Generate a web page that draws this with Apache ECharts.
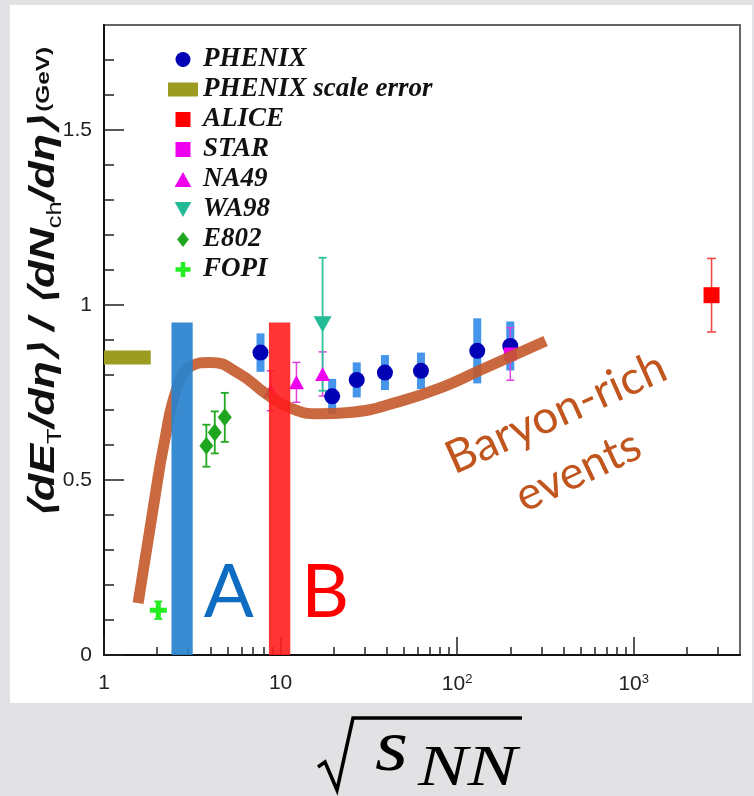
<!DOCTYPE html>
<html>
<head>
<meta charset="utf-8">
<script src="https://cdn.jsdelivr.net/npm/echarts@6/dist/echarts.min.js"></script>
<style>
  html, body { margin: 0; padding: 0; background: #e2e2e5; }
  #chart { width: 754px; height: 796px; }
</style>
</head>
<body>
<div id="chart"></div>
<script>
// sqrt(s_NN) in GeV, <dE_T/deta>/<dN_ch/deta> in GeV
const phenixEnergy = [7.7, 19.6, 27, 39, 62.4, 130, 200]
const phenixValue = [0.864, 0.739, 0.786, 0.807, 0.812, 0.869, 0.883]
const phenixSyst = [0.055, 0.05, 0.05, 0.05, 0.052, 0.093, 0.07]

const aliceEnergy = [2760]
const aliceValue = [1.028]
const aliceErr = [0.105]

const starEnergy = [200]
const starValue = [0.86]
const starErr = [0.075]

const na49Energy = [8.8, 12.3, 17.3]
const na49Value = [0.755, 0.779, 0.803]
const na49Err = [0.057, 0.057, 0.063]

const wa98Energy = [17.3]
const wa98Value = [0.945]
const wa98Err = [0.19]

const e802Energy = [3.8, 4.24, 4.83]
const e802Value = [0.598, 0.636, 0.679]
const e802Err = [0.06, 0.06, 0.07]

const fopiEnergy = [2.03]
const fopiValue = [0.128]
const fopiErr = [0.025]

// PHENIX scale error box: energy range and value +- half height
const scaleErrEnergy = [1, 1.84]
const scaleErrValue = [0.85]
const scaleErrHalf = [0.02]

// hand drawn "Baryon-rich events" curve
const curveEnergy = [1.56, 1.9, 2.2, 2.6, 3.1, 4.0, 5.87, 8.3, 11.7, 16.5, 24.5, 47, 86, 133, 317]
const curveValue = [0.148, 0.42, 0.61, 0.765, 0.825, 0.836, 0.803, 0.746, 0.703, 0.689, 0.693, 0.724, 0.769, 0.812, 0.897]

// marked energy regions A and B
const regionNames = ['A', 'B']
const regionLow = [2.41, 8.59]
const regionHigh = [3.18, 11.35]
const regionTop = [0.95, 0.95]

const xMajorTicks = [1, 10, 100, 1000]
const yMajorTicks = [0, 0.5, 1, 1.5]

const xMinorTicks = []
for (const d of [1, 10, 100, 1000]) {
  for (let k = 2; k <= 9; k++) {
    if (d * k < 4000) xMinorTicks.push(d * k)
  }
}
const yMinorTicks = []
for (let i = 1; i <= 17; i++) {
  if (i % 5 !== 0) yMinorTicks.push(i / 10)
}

const zip = (xs, ys, es) => xs.map((x, i) => [x, ys[i], es[i]])

function errorBars(xs, ys, es, color, cap, width) {
  return {
    type: 'custom',
    z: 3,
    silent: true,
    encode: { x: 0, y: 1 },
    data: zip(xs, ys, es),
    renderItem(params, api) {
      const x = api.value(0)
      const y = api.value(1)
      const e = api.value(2)
      const hi = api.coord([x, y + e])
      const lo = api.coord([x, y - e])
      const s = { stroke: color, lineWidth: width }
      return {
        type: 'group',
        children: [
          { type: 'line', shape: { x1: hi[0], y1: hi[1], x2: lo[0], y2: lo[1] }, style: s },
          { type: 'line', shape: { x1: hi[0] - cap / 2, y1: hi[1], x2: hi[0] + cap / 2, y2: hi[1] }, style: s },
          { type: 'line', shape: { x1: lo[0] - cap / 2, y1: lo[1], x2: lo[0] + cap / 2, y2: lo[1] }, style: s }
        ]
      }
    }
  }
}

const myChart = echarts.init(document.getElementById('chart'))

const tickStyle = { color: '#222', width: 1.5 }

const option = {
  backgroundColor: '#e2e2e5',
  animation: false,
  grid: {
    left: 104, right: 14, top: 25, bottom: 141,
    show: true, borderColor: '#666', borderWidth: 2, backgroundColor: 'transparent'
  },
  graphic: {
    elements: [
      { type: 'rect', z: -100, shape: { x: 10, y: 5, width: 742, height: 698 }, style: { fill: '#ffffff' } },
      {
        type: 'text', x: 44, y: 283, rotation: Math.PI / 2, scaleX: 1.28, z: 10,
        style: {
          text: '{i|⟨dE}{sub|T}{i|/dη⟩ / ⟨dN}{sub|ch}{i|/dη⟩} {g|(GeV)}',
          align: 'center', verticalAlign: 'middle',
          rich: {
            i: { fontFamily: 'Liberation Sans', fontStyle: 'italic', fontWeight: 'bold', fontSize: 35, fill: '#111', lineHeight: 42, verticalAlign: 'middle' },
            sub: { fontFamily: 'Liberation Sans', fontSize: 20, fill: '#111', lineHeight: 42, verticalAlign: 'bottom' },
            g: { fontFamily: 'Liberation Sans', fontWeight: 'bold', fontSize: 19, fill: '#111', lineHeight: 42, verticalAlign: 'middle' }
          }
        }
      },
      {
        type: 'text', x: 556, y: 413, rotation: 0.42, z: 10,
        style: { text: 'Baryon-rich', fontFamily: 'Lato', fontSize: 46, fill: '#c0561e', align: 'center', verticalAlign: 'middle' }
      },
      {
        type: 'text', x: 578, y: 471, rotation: 0.44, z: 10,
        style: { text: 'events', fontFamily: 'Lato', fontSize: 46, fill: '#c0561e', align: 'center', verticalAlign: 'middle' }
      },
      {
        type: 'polyline', z: 10,
        shape: { points: [[318, 767], [325, 762], [337, 790], [353, 718], [522, 718]] },
        style: { stroke: '#000', lineWidth: 3.5, fill: null, lineJoin: 'miter' }
      },
      {
        type: 'text', x: 375, y: 788, z: 10, scaleX: 1.15,
        style: { text: 's', fontFamily: 'Liberation Serif', fontStyle: 'italic', fontSize: 74, fill: '#000', verticalAlign: 'bottom' }
      },
      {
        type: 'text', x: 418, y: 799, z: 10, scaleX: 1.28,
        style: { text: 'NN', fontFamily: 'Liberation Serif', fontStyle: 'italic', fontSize: 58, fill: '#000', verticalAlign: 'bottom' }
      }
    ]
  },
  legend: {
    orient: 'vertical',
    left: 163, top: 41,
    itemWidth: 30, itemHeight: 15, itemGap: 3,
    textStyle: { fontFamily: 'Liberation Serif', fontStyle: 'italic', fontWeight: 'bold', fontSize: 27, color: '#111' },
    data: [
      { name: 'PHENIX', icon: 'circle' },
      { name: 'PHENIX scale error', icon: 'path://M0,0L30,0L30,14L0,14Z', itemStyle: { color: '#9c9c22' } },
      { name: 'ALICE', icon: 'path://M0,0L10,0L10,10L0,10Z' },
      { name: 'STAR', icon: 'path://M0,0L10,0L10,10L0,10Z' },
      { name: 'NA49', icon: 'path://M5,0L10,9L0,9Z' },
      { name: 'WA98', icon: 'path://M0,0L10,0L5,9Z' },
      { name: 'E802', icon: 'path://M5,0L10.5,7L5,14L-0.5,7Z' },
      { name: 'FOPI', icon: 'path://M3.5,0H6.5V3.5H10V6.5H6.5V10H3.5V6.5H0V3.5H3.5Z' }
    ]
  },
  xAxis: [
    {
      type: 'log', logBase: 10, min: 1, max: 4000,
      axisLine: { lineStyle: { color: '#111', width: 2 } },
      axisTick: { inside: true, length: 18, lineStyle: tickStyle, customValues: xMajorTicks },
      axisLabel: {
        customValues: xMajorTicks,
        margin: 18,
        fontFamily: 'Liberation Sans Narrow, Liberation Sans', fontSize: 21, color: '#222',
        formatter: v => {
          const p = Math.round(Math.log10(v))
          if (Math.abs(Math.log10(v) - p) > 1e-6) return ''
          if (p === 0) return '1'
          if (p === 1) return '10'
          return '10{sup|' + p + '}'
        },
        rich: { sup: { fontFamily: 'Liberation Sans Narrow, Liberation Sans', fontSize: 13, color: '#222', verticalAlign: 'top', padding: [0, 0, 10, 0] } }
      },
      splitLine: { show: false }
    },
    {
      type: 'log', logBase: 10, min: 1, max: 4000, position: 'bottom',
      axisLine: { show: false },
      axisTick: { inside: true, length: 8, lineStyle: tickStyle, customValues: xMinorTicks },
      axisLabel: { show: false },
      splitLine: { show: false }
    }
  ],
  yAxis: [
    {
      type: 'value', min: 0, max: 1.8, interval: 0.5,
      axisLine: { show: true, lineStyle: { color: '#111', width: 2 } },
      axisTick: { inside: true, length: 20, lineStyle: tickStyle, customValues: yMajorTicks },
      axisLabel: { customValues: yMajorTicks, margin: 12, fontFamily: 'Liberation Sans', fontSize: 21, color: '#222' },
      splitLine: { show: false }
    },
    {
      type: 'value', min: 0, max: 1.8, interval: 0.1, position: 'left',
      axisLine: { show: false },
      axisTick: { inside: true, length: 10, lineStyle: tickStyle, customValues: yMinorTicks },
      axisLabel: { show: false },
      splitLine: { show: false }
    }
  ],
  series: [
    {
      type: 'custom', z: 2, silent: true,
      encode: { x: 0, y: 1 },
      data: zip(phenixEnergy, phenixValue, phenixSyst),
      renderItem(params, api) {
        const x = api.value(0), y = api.value(1), e = api.value(2)
        const hi = api.coord([x, y + e])
        const lo = api.coord([x, y - e])
        return { type: 'rect', shape: { x: hi[0] - 4, y: hi[1], width: 8, height: lo[1] - hi[1] }, style: { fill: '#4596ea' } }
      }
    },
    {
      name: 'PHENIX scale error', type: 'custom', z: 2, silent: true,
      itemStyle: { color: '#9c9c22' },
      encode: { x: [0, 1], y: 2 },
      data: [[scaleErrEnergy[0], scaleErrEnergy[1], scaleErrValue[0], scaleErrHalf[0]]],
      renderItem(params, api) {
        const a = api.coord([api.value(0), api.value(2) + api.value(3)])
        const b = api.coord([api.value(1), api.value(2) - api.value(3)])
        return { type: 'rect', shape: { x: a[0], y: a[1], width: b[0] - a[0], height: b[1] - a[1] }, style: { fill: '#9c9c22' } }
      }
    },
    errorBars(aliceEnergy, aliceValue, aliceErr, '#f04848', 9, 1.6),
    errorBars(starEnergy, starValue, starErr, '#e040e0', 8, 1.5),
    errorBars(na49Energy, na49Value, na49Err, '#e040e0', 8, 1.5),
    errorBars(wa98Energy, wa98Value, wa98Err, '#2cc49c', 8, 1.8),
    errorBars(e802Energy, e802Value, e802Err, '#22a822', 8, 1.8),
    errorBars(fopiEnergy, fopiValue, fopiErr, '#22e422', 8, 1.8),
    {
      name: 'PHENIX', type: 'scatter', z: 4, symbol: 'circle', symbolSize: 16,
      itemStyle: { color: '#0000b4', opacity: 1 },
      data: phenixEnergy.map((x, i) => [x, phenixValue[i]])
    },
    {
      name: 'ALICE', type: 'scatter', z: 4, symbol: 'rect', symbolSize: 16,
      itemStyle: { color: '#ff0000', opacity: 1 },
      data: aliceEnergy.map((x, i) => [x, aliceValue[i]])
    },
    {
      name: 'STAR', type: 'scatter', z: 4, symbol: 'rect', symbolSize: 13,
      itemStyle: { color: '#ee00ee', opacity: 1 },
      data: starEnergy.map((x, i) => [x, starValue[i]])
    },
    {
      name: 'NA49', type: 'scatter', z: 4, symbol: 'triangle', symbolSize: [15, 14],
      itemStyle: { color: '#ee00ee', opacity: 1 },
      data: na49Energy.map((x, i) => [x, na49Value[i]])
    },
    {
      name: 'WA98', type: 'scatter', z: 4, symbol: 'triangle', symbolRotate: 180, symbolSize: [18, 16],
      itemStyle: { color: '#22bb96', opacity: 1 },
      data: wa98Energy.map((x, i) => [x, wa98Value[i]])
    },
    {
      name: 'E802', type: 'scatter', z: 4, symbol: 'diamond', symbolSize: [14, 18],
      itemStyle: { color: '#1fa61f', opacity: 1 },
      data: e802Energy.map((x, i) => [x, e802Value[i]])
    },
    {
      name: 'FOPI', type: 'scatter', z: 4,
      symbol: 'path://M3.5,0H6.5V3.5H10V6.5H6.5V10H3.5V6.5H0V3.5H3.5Z', symbolSize: 17,
      itemStyle: { color: '#22ee22', opacity: 1 },
      data: fopiEnergy.map((x, i) => [x, fopiValue[i]])
    },
    {
      type: 'line', z: 5, smooth: 0.5, symbol: 'none', silent: true,
      lineStyle: { color: '#c4582a', width: 11, opacity: 0.9, cap: 'butt' },
      data: curveEnergy.map((x, i) => [x, curveValue[i]])
    },
    {
      type: 'custom', z: 6, silent: true,
      encode: { x: [0, 1], y: 2 },
      data: regionNames.map((n, i) => [regionLow[i], regionHigh[i], regionTop[i], n]),
      renderItem(params, api) {
        const a = api.coord([api.value(0), api.value(2)])
        const b = api.coord([api.value(1), 0])
        const isA = params.dataIndex === 0
        return {
          type: 'group',
          children: [
            { type: 'rect', shape: { x: a[0], y: a[1], width: b[0] - a[0], height: b[1] - a[1] }, style: { fill: isA ? 'rgba(40,130,205,0.92)' : 'rgba(255,30,30,0.9)' } },
            { type: 'text', style: { text: regionNames[params.dataIndex], x: b[0] + 11, y: b[1] - 25, verticalAlign: 'bottom', fontFamily: 'Lato', fontSize: 74, fill: isA ? '#0e6cc2' : '#ff0000' } }
          ]
        }
      }
    }
  ]
}

myChart.setOption(option)
</script>
</body>
</html>
